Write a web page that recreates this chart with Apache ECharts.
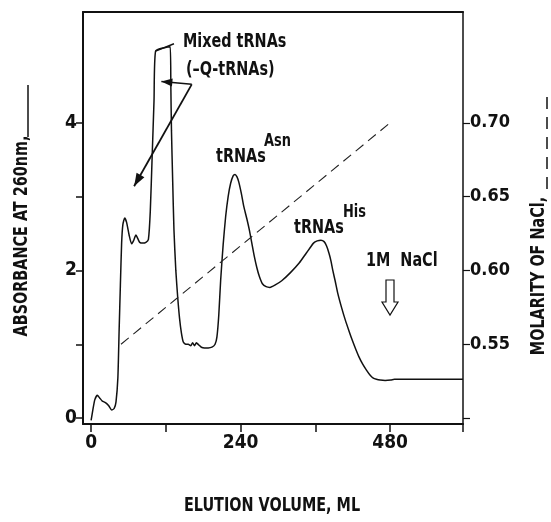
<!DOCTYPE html>
<html><head><meta charset="utf-8">
<script src="https://cdn.jsdelivr.net/npm/echarts@6/dist/echarts.min.js"></script>
<style>html,body{margin:0;padding:0;background:#fff}#c{width:551px;height:522px}</style>
</head><body><div id="c"></div>
<script>
// Elution volume (ml) and absorbance at 260 nm
const volume = [0,3,6,10,14,18,23,28,33,37,40,43,45,47,49,51,54,57,61,65,68,72,75,78,83,88,92,95,98,101,103.5,127,128,129,131,133,136,139,142,145,148,152,156,160,163,166,169,173,177,182,188,194,199,202,205,208,212,216,220,224,228,231,234,237,241,245,250,254,258,262,266,270,275,281,287,295,306,320,334,345,351,357,363,369,374,378,382,385,388,392,396,402,408,414,419,425,430,436,442,448,453,458,464,472,481,487,520,560,597];
const absorbance = [-0.03,0.12,0.25,0.31,0.27,0.23,0.21,0.17,0.11,0.13,0.22,0.55,1.19,1.8,2.37,2.62,2.71,2.65,2.48,2.36,2.40,2.48,2.43,2.38,2.37,2.38,2.42,2.8,3.54,4.3,4.97,5.03,4.5,3.9,3.2,2.55,2.0,1.64,1.35,1.15,1.03,1.0,1.0,0.98,1.02,0.98,1.02,0.99,0.96,0.95,0.95,0.96,1.0,1.1,1.4,1.87,2.35,2.73,3.0,3.18,3.28,3.3,3.27,3.2,3.05,2.87,2.7,2.55,2.37,2.19,2.04,1.92,1.82,1.78,1.77,1.8,1.86,1.97,2.1,2.23,2.3,2.37,2.40,2.41,2.39,2.33,2.23,2.13,2.0,1.85,1.69,1.5,1.33,1.18,1.06,0.93,0.83,0.73,0.65,0.58,0.54,0.525,0.515,0.51,0.515,0.525,0.525,0.525,0.525];
// NaCl gradient
const gradVolume = [48, 480];
const gradMolarity = [0.55, 0.70];
// ticks
const xTicks = [0,120,240,360,480];
const xLabels = [0,240,480];
const yTicks = [0,1,2,3,4];
const yLabels = [0,2,4];
const y2Ticks = [0.50,0.55,0.60,0.65,0.70];
const y2Labels = [0.55,0.60,0.65,0.70];

const FONT = "'DejaVu Sans Condensed','Liberation Sans Narrow','Liberation Sans',sans-serif";
const chart = echarts.init(document.getElementById('c'), null, {renderer:'canvas'});
const lbl = {color:'#111', fontFamily:FONT, fontSize:19, fontWeight:'bold'};
const option = {
  animation:false,
  backgroundColor:'#fff',
  grid:{left:83, right:88, top:12, bottom:98, containLabel:false},
  xAxis:[{
    type:'value', min:-13, max:597, position:'bottom',
    axisLine:{show:true, onZero:false, lineStyle:{color:'#111', width:2}},
    axisTick:{show:true, customValues:xTicks, length:8, lineStyle:{color:'#111', width:1.5}},
    axisLabel:Object.assign({customValues:xLabels, margin:10}, lbl),
    splitLine:{show:false}
  },{
    type:'value', min:-13, max:597, position:'top',
    axisLine:{show:true, onZero:false, lineStyle:{color:'#111', width:2}},
    axisTick:{show:false}, axisLabel:{show:false}, splitLine:{show:false}
  }],
  yAxis:[{
    type:'value', min:-0.08, max:5.5, position:'left',
    axisLine:{show:true, onZero:false, lineStyle:{color:'#111', width:2}},
    axisTick:{show:true, customValues:yTicks, length:7, lineStyle:{color:'#111', width:1.5}},
    axisLabel:Object.assign({customValues:yLabels, margin:6}, lbl),
    splitLine:{show:false}
  },{
    type:'value', min:0.496, max:0.775, position:'right',
    axisLine:{show:true, onZero:false, lineStyle:{color:'#111', width:1.5}},
    axisTick:{show:true, customValues:y2Ticks, length:7, lineStyle:{color:'#111', width:1.2}},
    axisLabel:Object.assign({customValues:y2Labels, margin:7, formatter:v=>v.toFixed(2)}, lbl, {fontSize:18}),
    splitLine:{show:false}
  }],
  series:[{
    type:'line', xAxisIndex:0, yAxisIndex:0, symbol:'none', smooth:0.2,
    data: volume.map((v,i)=>[v, absorbance[i]]),
    lineStyle:{color:'#111', width:1.5}
  },{
    type:'line', xAxisIndex:0, yAxisIndex:1, symbol:'none',
    data: gradVolume.map((v,i)=>[v, gradMolarity[i]]),
    lineStyle:{color:'#222', width:1.1, type:[10,6]}
  }]
};
chart.setOption(option);

function px(p){ return chart.convertToPixel({xAxisIndex:0, yAxisIndex:0}, p); }
function arrowHead(from, to, len, hw){
  const dx = to[0]-from[0], dy = to[1]-from[1];
  const d = Math.hypot(dx,dy), ux = dx/d, uy = dy/d;
  const bx = to[0]-ux*len, by = to[1]-uy*len;
  return {type:'polygon', shape:{points:[to,[bx-uy*hw, by+ux*hw],[bx+uy*hw, by-ux*hw]]}, style:{fill:'#111'}};
}
const pivot = px([161.6, 4.52]);
const tip1 = px([112.8, 4.56]);
const tip2 = px([69, 3.14]);
const lead0 = px([103.5, 4.97]);
const lead1 = px([133, 5.07]);
const SX = 0.8;
const txt = (x,y,t,fs)=>({type:'text', x:x, y:y, scaleX:SX, style:{text:t, fill:'#111', font:'600 '+fs+'px '+FONT, verticalAlign:'middle', align:'left'}});
const g = [
  {type:'line', shape:{x1:lead0[0], y1:lead0[1], x2:lead1[0], y2:lead1[1]}, style:{stroke:'#111', lineWidth:1.5}},
  {type:'line', shape:{x1:pivot[0], y1:pivot[1], x2:tip1[0], y2:tip1[1]}, style:{stroke:'#111', lineWidth:1.5}},
  {type:'line', shape:{x1:pivot[0], y1:pivot[1], x2:tip2[0], y2:tip2[1]}, style:{stroke:'#111', lineWidth:1.8}},
  arrowHead(pivot, tip1, 11, 4),
  arrowHead(pivot, tip2, 13, 4.5),
  txt(183, 42, 'Mixed tRNAs', 20),
  txt(186, 70, '(\u2013Q-tRNAs)', 20),
  txt(216, 157, 'tRNAs', 20),
  txt(264, 141, 'Asn', 18),
  txt(294, 228, 'tRNAs', 20),
  txt(343, 212, 'His', 18),
  txt(366, 261, '1M  NaCl', 20),
  {type:'polygon', shape:{points:[[386,280],[394,280],[394,302],[398,302],[390,315],[382,302],[386,302]]}, style:{fill:'#fff', stroke:'#111', lineWidth:1.2}},
  {type:'line', shape:{x1:463, y1:424, x2:463, y2:432}, style:{stroke:'#111', lineWidth:1.5}},
  {type:'text', x:22, y:236, rotation:Math.PI/2, scaleX:SX, style:{text:'ABSORBANCE AT 260nm,', fill:'#111', font:'600 20px '+FONT, align:'center', verticalAlign:'middle'}},
  {type:'line', shape:{x1:28, y1:85, x2:28, y2:137}, style:{stroke:'#111', lineWidth:1.5}},
  {type:'text', x:539, y:276, rotation:Math.PI/2, scaleX:SX, style:{text:'MOLARITY OF NaCl,', fill:'#111', font:'600 20px '+FONT, align:'center', verticalAlign:'middle'}},
  {type:'line', shape:{x1:547, y1:97, x2:547, y2:197}, style:{stroke:'#111', lineWidth:1.5, lineDash:[12,8]}},
  {type:'text', x:272, y:506, scaleX:SX, style:{text:'ELUTION VOLUME, ML', fill:'#111', font:'600 20px '+FONT, align:'center', verticalAlign:'middle'}}
];
chart.setOption({graphic:g});
</script>
</body></html>
